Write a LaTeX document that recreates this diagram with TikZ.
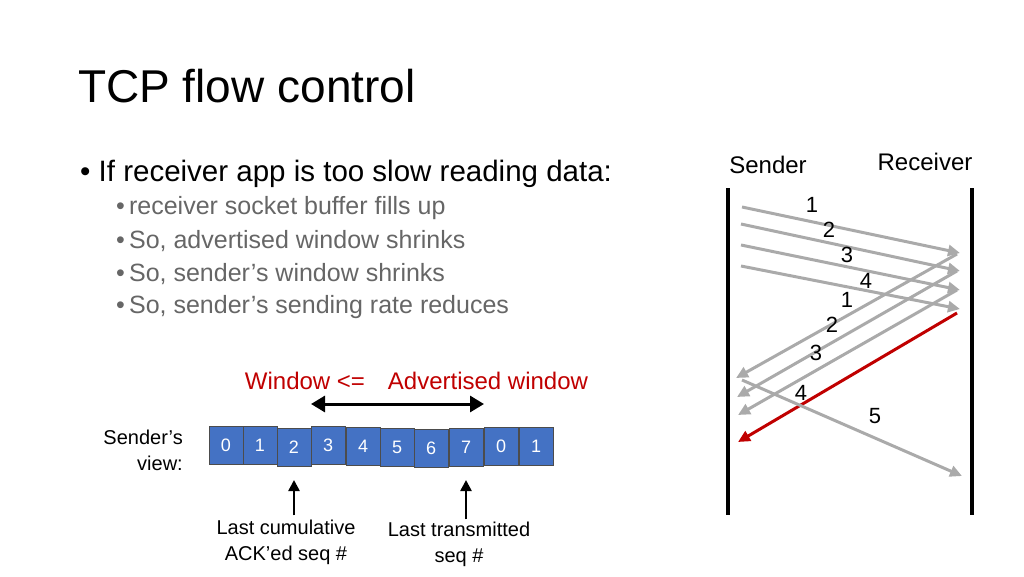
\documentclass[tikz,border=0pt]{standalone}
\usepackage{fontspec}
\setmainfont{Liberation Sans}
\usetikzlibrary{arrows.meta}
\definecolor{boxblue}{RGB}{68,114,196}
\definecolor{ackgray}{RGB}{170,170,170}
\definecolor{winred}{RGB}{192,0,0}
\begin{document}
\begin{tikzpicture}[x=1pt,y=-1pt,
  seg/.style={draw=black!70,fill=boxblue,minimum width=34pt,minimum height=38pt,text=white,font=\fontsize{18}{18}\selectfont,inner sep=0pt},
  pkt/.style={ackgray,line width=3pt,-{Triangle[length=12pt,width=11pt]}},
  lbl/.style={font=\fontsize{22}{22}\selectfont,inner sep=0pt},
  note/.style={inner sep=0pt,align=center,font=\fontsize{20}{26}\selectfont},
  sub/.style={text=black!60,font=\fontsize{25}{28}\selectfont,anchor=west,inner sep=0pt}]
  \useasboundingbox (0,0) rectangle (1024,576);
  %title and bullets
  \node (title) at (78,86)[anchor=west,inner sep=0pt,font=\fontsize{46}{46}\selectfont]{TCP flow control};
  \node (b0) at (80,174)[anchor=west,inner sep=0pt,font=\fontsize{29.5}{30}\selectfont]{• If receiver app is too slow reading data:};
  \node (b1) at (116,208)[sub]{•\,receiver socket buffer fills up};
  \node (b2) at (116,241)[sub]{•\,So, advertised window shrinks};
  \node (b3) at (116,274)[sub]{•\,So, sender’s window shrinks};
  \node (b4) at (116,307)[sub]{•\,So, sender’s sending rate reduces};

  %sender view
  \node (w1) at (305,381)[lbl,text=winred,anchor=center,font=\fontsize{24}{24}\selectfont]{Window <=};
  \node (w2) at (488,381)[lbl,text=winred,anchor=center,font=\fontsize{24}{24}\selectfont]{Advertised window};
  \coordinate (wl) at (311,404);
  \coordinate (wr) at (484,404);
  \draw[line width=3pt,{Triangle[length=14pt,width=16pt]}-{Triangle[length=14pt,width=16pt]}] (wl) to (wr);
  \node (sv) at (183,450)[note,align=right,anchor=east]{Sender’s\\view:};
  \node (s0) at (226,445)[seg]{0};
  \node (s1) at (260,445)[seg]{1};
  \node (s2) at (294,447)[seg]{2};
  \node (s3) at (328,445)[seg]{3};
  \node (s4) at (363,446)[seg]{4};
  \node (s5) at (397,447)[seg]{5};
  \node (s6) at (431,448)[seg]{6};
  \node (s7) at (466,447)[seg]{7};
  \node (s8) at (501,446)[seg]{0};
  \node (s9) at (536,446)[seg]{1};
  \node (la) at (286,542)[note]{Last cumulative\\ACK’ed seq \#};
  \node (lt) at (459,544)[note]{Last transmitted\\seq \#};
  \draw[line width=2.5pt,-{Triangle[length=11pt,width=11pt]}] (la.north -| s2.south) ++(0,-4) to (s2.south |- 0,480);
  \draw[line width=2.5pt,-{Triangle[length=11pt,width=11pt]}] (lt.north -| s7.south) ++(0,-2) to (s7.south |- 0,480);

  %timeline
  \node (snd) at (768,165)[lbl,font=\fontsize{24}{24}\selectfont]{Sender};
  \node (rcv) at (925,162)[lbl,font=\fontsize{24}{24}\selectfont]{Receiver};
  \coordinate (st) at (728,188); \coordinate (sb) at (728,515);
  \coordinate (rt) at (972,188); \coordinate (rb) at (972,515);
  \draw[line width=4pt] (st) to (sb);
  \draw[line width=4pt] (rt) to (rb);
  %data
  \draw[pkt] (742,207) to (960,253);
  \draw[pkt] (741,224) to (960,271);
  \draw[pkt] (741,245) to (960,290);
  \draw[pkt] (741,266) to (960,309);
  \node (d1) at (812,205)[lbl]{1};
  \node (d2) at (829,230)[lbl]{2};
  \node (d3) at (847,255)[lbl]{3};
  \node (d4) at (866,281)[lbl]{4};
  %acks
  \draw[pkt] (957,254) to (736,378);
  \draw[pkt] (957,271) to (737,397);
  \draw[pkt] (957,290) to (738,415);
  \draw[winred,line width=3pt,-{Triangle[length=12pt,width=11pt]}] (957,313) to (738,442);
  \node (a1) at (847,300)[lbl]{1};
  \node (a2) at (832,325)[lbl]{2};
  \node (a3) at (816,353)[lbl]{3};
  \node (a4) at (801,393)[lbl]{4};
  \draw[pkt] (742,380) to (962,476);
  \node (d5) at (875,416)[lbl]{5};
\end{tikzpicture}
\end{document}
